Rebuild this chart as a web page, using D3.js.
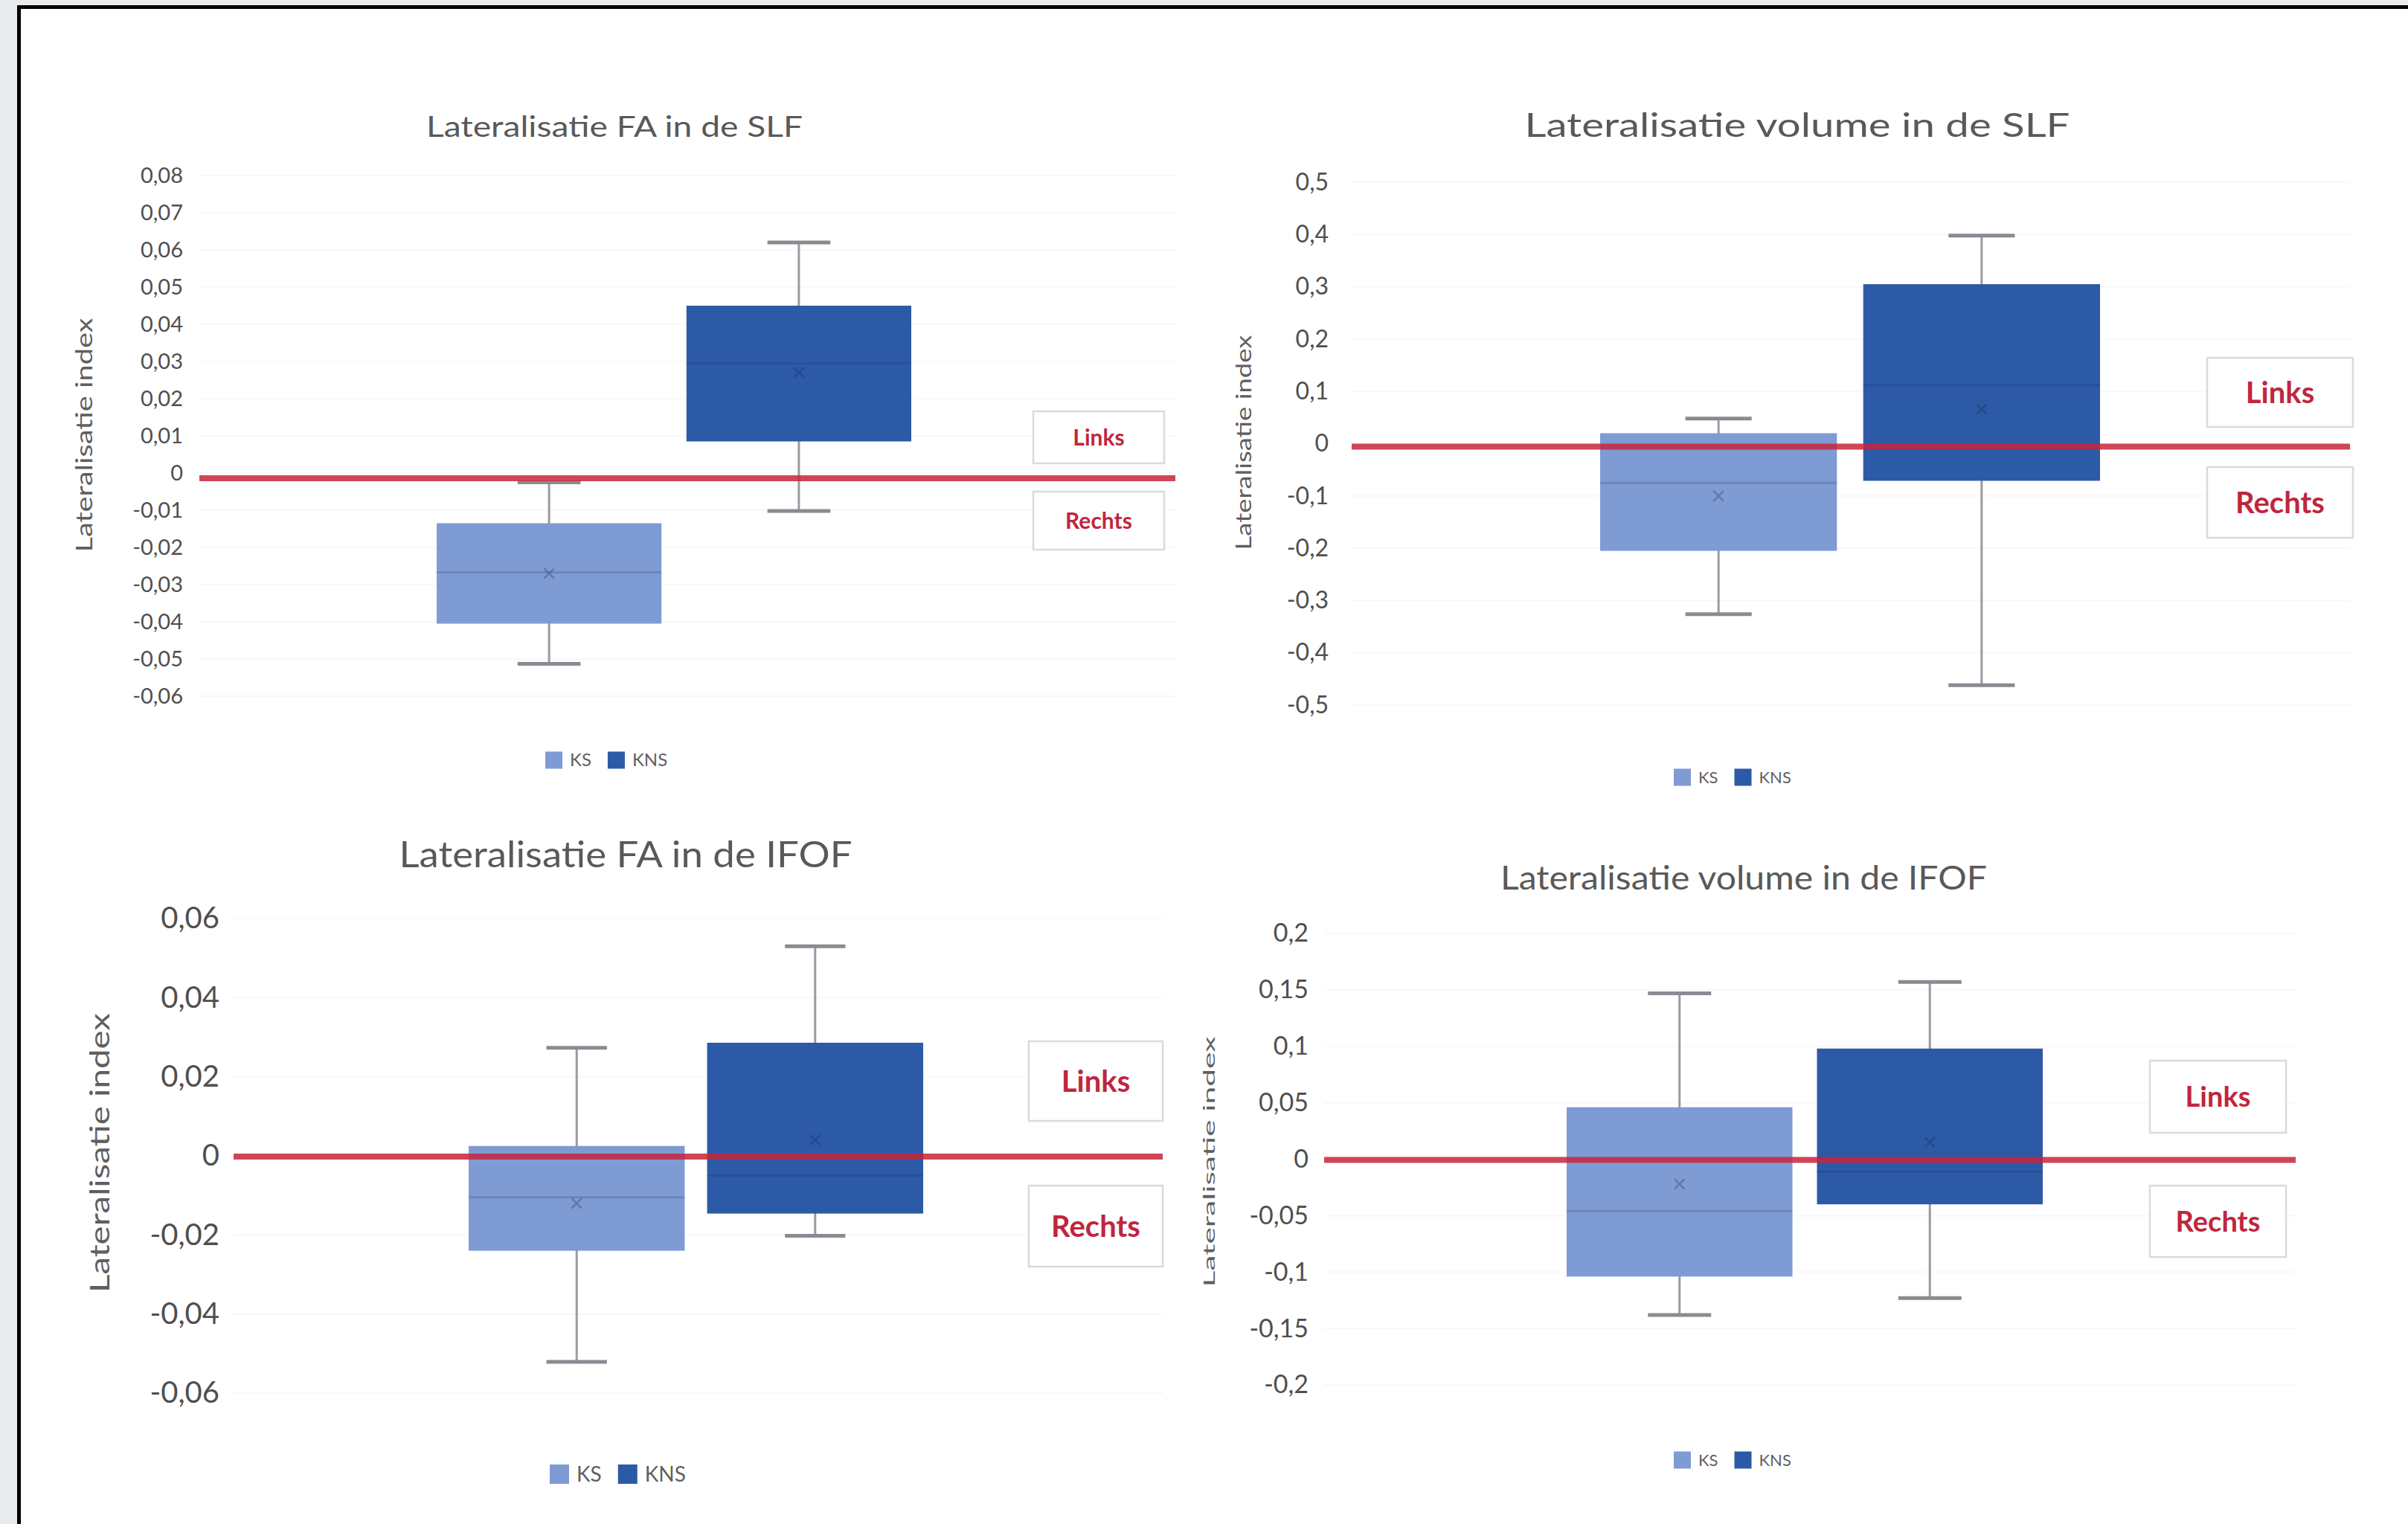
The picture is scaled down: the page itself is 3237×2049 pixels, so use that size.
<!DOCTYPE html>
<meta charset="utf-8">
<style>
body { margin: 0; background: #e9ebee; }
svg { display: block; font-family: "Lato", "Open Sans", sans-serif; }
.tick text { fill: #4f4f4f; }
.title { fill: #595959; text-anchor: middle; }
.ytitle { fill: #5f5f5f; text-anchor: middle; }
.side { fill: #c0263d; font-weight: 700; text-anchor: middle; }
.leg { fill: #5f5f5f; }
</style>
<body>
<script src="https://d3js.org/d3.v7.min.js"></script>
<script>
var width = 3237,
    height = 2049;

var groups = ["KS", "KNS"];
var titles = ["Lateralisatie FA in de SLF", "Lateralisatie volume in de SLF",
              "Lateralisatie FA in de IFOF", "Lateralisatie volume in de IFOF"];
var yTitle = "Lateralisatie index";
var sideLabels = ["Links", "Rechts"];

// per group: [min, q1, median, q3, max, mean]
var faSLF  = [[-0.0513, -0.0405, -0.0267, -0.0135, -0.0025, -0.027],
              [-0.0102,  0.0085,  0.0295,  0.045,   0.062,   0.027]];
var volSLF = [[-0.326, -0.205, -0.075,  0.02,  0.048, -0.1],
              [-0.462, -0.071,  0.112,  0.305, 0.398,  0.066]];
var faIFOF = [[-0.0521, -0.024,  -0.0105, 0.0025, 0.0273, -0.012],
              [-0.0202, -0.0146, -0.005,  0.0286, 0.053,   0.004]];
var volIFOF = [[-0.138, -0.104, -0.046, 0.046, 0.147, -0.022],
               [-0.123, -0.040, -0.011, 0.098, 0.157,  0.015]];

var ticksFaSLF = [0.08, 0.07, 0.06, 0.05, 0.04, 0.03, 0.02, 0.01, 0, -0.01, -0.02, -0.03, -0.04, -0.05, -0.06];
var ticksVolSLF = [0.5, 0.4, 0.3, 0.2, 0.1, 0, -0.1, -0.2, -0.3, -0.4, -0.5];
var ticksFaIFOF = [0.06, 0.04, 0.02, 0, -0.02, -0.04, -0.06];
var ticksVolIFOF = [0.2, 0.15, 0.1, 0.05, 0, -0.05, -0.1, -0.15, -0.2];

var colors = {KS: "#7f9bd4", KNS: "#2c5aa6"};

// layout of each panel in page pixels
var layout = [
  {x0: 268, x1: 1580, top: 236, bottom: 936, labelX: 246, tickFont: 29, lineOff: 7,
   boxes: [587, 1225], pad: 0.1,
   title: {x: 826, y: 184, size: 38, len: 506},
   yt: {x: 113, y: 585, size: 30, len: 315},
   links: [1389, 553, 176, 70], rechts: [1389, 661, 176, 78], sideFont: 30,
   legend: {x: 733, y: 1022, sw: 23, size: 24}},
  {x0: 1817, x1: 3159, top: 245, bottom: 948, labelX: 1786, tickFont: 32, lineOff: 4,
   boxes: [2151, 2823], pad: 0.1,
   title: {x: 2416, y: 184, size: 44, len: 733},
   yt: {x: 1672, y: 595, size: 28, len: 289},
   links: [2967, 481, 196, 93], rechts: [2967, 628, 196, 95], sideFont: 40,
   legend: {x: 2250, y: 1045, sw: 23, size: 22}},
  {x0: 314, x1: 1563, top: 1235, bottom: 1873, labelX: 295, tickFont: 40, lineOff: 1,
   boxes: [630, 1241], pad: 0.094,
   title: {x: 841, y: 1166, size: 48, len: 609},
   yt: {x: 134, y: 1550, size: 36, len: 376},
   links: [1383, 1400, 180, 107], rechts: [1383, 1594, 180, 109], sideFont: 40,
   legend: {x: 739, y: 1982, sw: 26, size: 28}},
  {x0: 1780, x1: 3086, top: 1255, bottom: 1862, labelX: 1759, tickFont: 34, lineOff: 1,
   boxes: [2106, 2746], pad: 0.098,
   title: {x: 2344, y: 1196, size: 44, len: 654},
   yt: {x: 1625, y: 1562, size: 22, len: 337},
   links: [2890, 1426, 183, 97], rechts: [2890, 1594, 183, 96], sideFont: 38,
   legend: {x: 2250, y: 1963, sw: 23, size: 22}}
];

var panels = [
  {title: titles[0], stats: faSLF, ticks: ticksFaSLF},
  {title: titles[1], stats: volSLF, ticks: ticksVolSLF},
  {title: titles[2], stats: faIFOF, ticks: ticksFaIFOF},
  {title: titles[3], stats: volIFOF, ticks: ticksVolIFOF}
];

var svg = d3.select("body").append("svg")
    .attr("width", width)
    .attr("height", height);

// page frame
svg.append("rect").attr("x", 23).attr("y", 7)
    .attr("width", width - 23).attr("height", height - 7)
    .attr("fill", "#fff");
svg.append("path")
    .attr("d", "M25.5," + height + "V9.5H" + width)
    .attr("fill", "none").attr("stroke", "#000").attr("stroke-width", 5);

function fmt(v) {
    return String(v).replace(".", ",");
}

panels.forEach(function(p, i) {
    var L = layout[i];
    var g = svg.append("g");
    var ext = d3.extent(p.ticks);

    var y = d3.scaleLinear()
        .domain([ext[1], ext[0]])
        .range([L.top, L.bottom]);
    var x = d3.scaleBand()
        .domain(groups)
        .range(L.boxes)
        .paddingInner(L.pad);

    // faint gridlines
    g.append("g").selectAll("line")
        .data(p.ticks)
        .enter().append("line")
        .attr("x1", L.x0).attr("x2", L.x1)
        .attr("y1", function(d) { return y(d); })
        .attr("y2", function(d) { return y(d); })
        .attr("stroke", "#f8f8f8").attr("stroke-width", 2);

    // y axis labels
    var axis = g.append("g")
        .attr("transform", "translate(" + L.labelX + ",0)")
        .call(d3.axisLeft(y).tickValues(p.ticks).tickFormat(fmt).tickSize(0).tickPadding(0));
    axis.select(".domain").remove();
    axis.selectAll("text")
        .attr("font-size", L.tickFont)
        .attr("font-family", "Lato, sans-serif");

    // title
    g.append("text").attr("class", "title")
        .attr("x", L.title.x).attr("y", L.title.y)
        .attr("font-size", L.title.size)
        .attr("textLength", L.title.len)
        .attr("lengthAdjust", "spacingAndGlyphs")
        .text(p.title);

    // y axis title
    g.append("text").attr("class", "ytitle")
        .attr("transform", "translate(" + L.yt.x + "," + L.yt.y + ") rotate(-90)")
        .attr("dy", "0.35em")
        .attr("font-size", L.yt.size)
        .attr("textLength", L.yt.len)
        .attr("lengthAdjust", "spacingAndGlyphs")
        .text(yTitle);

    var rows = groups.map(function(k, j) {
        var s = p.stats[j];
        return {key: k, min: s[0], q1: s[1], med: s[2], q3: s[3], max: s[4], mean: s[5]};
    });
    var bw = x.bandwidth();
    var cap = bw * 0.28;

    var box = g.append("g").selectAll("g")
        .data(rows)
        .enter().append("g");

    // whiskers
    box.append("line")
        .attr("x1", function(d) { return x(d.key) + bw / 2; })
        .attr("x2", function(d) { return x(d.key) + bw / 2; })
        .attr("y1", function(d) { return y(d.max); })
        .attr("y2", function(d) { return y(d.min); })
        .attr("stroke", "#9a9aa4").attr("stroke-width", 3);
    box.selectAll(".cap")
        .data(function(d) { return [d.min, d.max].map(function(v) { return {key: d.key, v: v}; }); })
        .enter().append("line")
        .attr("class", "cap")
        .attr("x1", function(d) { return x(d.key) + bw / 2 - cap / 2; })
        .attr("x2", function(d) { return x(d.key) + bw / 2 + cap / 2; })
        .attr("y1", function(d) { return y(d.v); })
        .attr("y2", function(d) { return y(d.v); })
        .attr("stroke", "#8a8a92").attr("stroke-width", 5);

    // boxes
    box.append("rect")
        .attr("x", function(d) { return x(d.key); })
        .attr("width", bw)
        .attr("y", function(d) { return y(d.q3); })
        .attr("height", function(d) { return y(d.q1) - y(d.q3); })
        .attr("fill", function(d) { return colors[d.key]; });

    // median
    box.append("line")
        .attr("x1", function(d) { return x(d.key); })
        .attr("x2", function(d) { return x(d.key) + bw; })
        .attr("y1", function(d) { return y(d.med); })
        .attr("y2", function(d) { return y(d.med); })
        .attr("stroke", "rgba(20,40,90,0.18)").attr("stroke-width", 3);

    // mean marker
    box.append("path")
        .attr("transform", function(d) { return "translate(" + (x(d.key) + bw / 2) + "," + y(d.mean) + ")"; })
        .attr("d", d3.symbol(d3.symbolX, 120))
        .attr("fill", "none")
        .attr("stroke", "rgba(30,40,70,0.3)").attr("stroke-width", 2.5);

    // red zero line
    g.append("line")
        .attr("x1", L.x0).attr("x2", L.x1)
        .attr("y1", y(0) + L.lineOff).attr("y2", y(0) + L.lineOff)
        .attr("stroke", "#c8243a").attr("stroke-opacity", 0.85)
        .attr("stroke-width", 8);

    // Links / Rechts boxes
    [L.links, L.rechts].forEach(function(r, j) {
        g.append("rect")
            .attr("x", r[0]).attr("y", r[1])
            .attr("width", r[2]).attr("height", r[3])
            .attr("fill", "#fff")
            .attr("stroke", "#dadada").attr("stroke-width", 2.5);
        g.append("text").attr("class", "side")
            .attr("x", r[0] + r[2] / 2).attr("y", r[1] + r[3] / 2)
            .attr("dy", "0.36em")
            .attr("font-size", L.sideFont)
            .text(sideLabels[j]);
    });

    // legend
    var lx = L.legend.x;
    groups.forEach(function(k) {
        g.append("rect")
            .attr("x", lx).attr("y", L.legend.y - L.legend.sw / 2)
            .attr("width", L.legend.sw).attr("height", L.legend.sw)
            .attr("fill", colors[k]);
        var t = g.append("text").attr("class", "leg")
            .attr("x", lx + L.legend.sw + 10).attr("y", L.legend.y)
            .attr("dy", "0.35em")
            .attr("font-size", L.legend.size)
            .text(k);
        lx += L.legend.sw + 10 + t.node().getComputedTextLength() + 22;
    });
});
</script>
</body>
